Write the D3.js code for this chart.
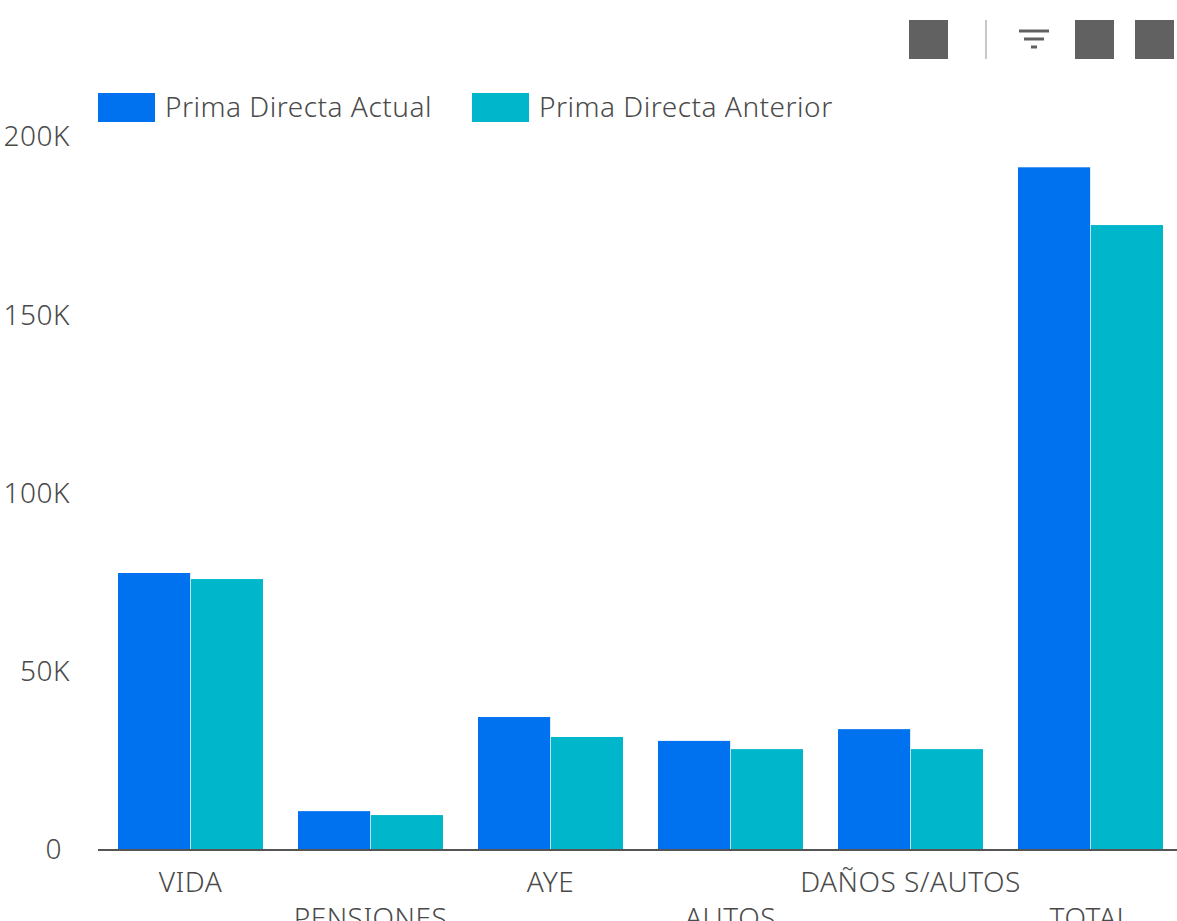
<!DOCTYPE html>
<html>
<head>
<meta charset="utf-8">
<script src="https://cdn.jsdelivr.net/npm/d3@7"></script>
<style>
  body { margin: 0; background: #fff; overflow: hidden; }
  svg { display: block; font-family: "Noto Sans", sans-serif; }
</style>
</head>
<body>
<svg width="1177" height="921"></svg>
<script>
// donnees
var ramos = ["VIDA", "PENSIONES", "AYE", "AUTOS", "DAÑOS S/AUTOS", "TOTAL"];
var series = ["Prima Directa Actual", "Prima Directa Anterior"];
var primaActual = [77700, 10900, 37300, 30600, 33900, 191500];
var primaAnterior = [76000, 9800, 31700, 28300, 28300, 175300];
var yTicks = [0, 50000, 100000, 150000, 200000];

var colores = ["#0072f0", "#00b6cb"];

var svg = d3.select("svg"),
    width = +svg.attr("width"),
    height = +svg.attr("height");

var data = ramos.map(function(r, i) {
    return {ramo: r, values: [primaActual[i], primaAnterior[i]]};
});

// echelles
var x0 = d3.scaleBand()
    .domain(ramos)
    .range([100.5, 1180.5])
    .paddingInner(35 / 180)
    .paddingOuter(35 / 360);

var x1 = d3.scaleBand()
    .domain([0, 1])
    .range([0, x0.bandwidth()])
    .paddingInner(0.01);

var y = d3.scaleLinear()
    .domain([0, 200000])
    .range([850, 137]);

var z = d3.scaleOrdinal().domain([0, 1]).range(colores);

// barres
svg.append("g")
    .selectAll("g")
    .data(data)
    .enter().append("g")
    .attr("transform", function(d) { return "translate(" + x0(d.ramo) + ",0)"; })
    .selectAll("rect")
    .data(function(d) { return d.values.map(function(v, k) { return {k: k, v: v}; }); })
    .enter().append("rect")
    .attr("x", function(d) { return x1(d.k); })
    .attr("y", function(d) { return y(d.v); })
    .attr("width", x1.bandwidth())
    .attr("height", function(d) { return y(0) - y(d.v); })
    .attr("fill", function(d) { return z(d.k); });

// style texte commun
function styleTexte(sel) {
    sel.attr("font-size", 28)
        .attr("font-family", "Noto Sans")
        .attr("font-weight", 300)
        .attr("letter-spacing", 0.5)
        .attr("fill", "#4a4a4a");
}

// axe X
var axeX = svg.append("g")
    .attr("transform", "translate(0," + y(0) + ")")
    .call(d3.axisBottom(x0).tickSize(0).tickPadding(0));
axeX.select(".domain").remove();
axeX.append("line")
    .attr("x1", 98).attr("x2", width)
    .attr("y1", 0).attr("y2", 0)
    .attr("stroke", "#555").attr("stroke-width", 2);
axeX.selectAll(".tick text")
    .call(styleTexte)
    .attr("dy", null)
    .attr("y", function(d, i) { return i % 2 ? 78 : 42; });

// axe Y
var axeY = svg.append("g")
    .attr("transform", "translate(70,0)")
    .call(d3.axisLeft(y).tickValues(yTicks).tickSize(0).tickPadding(0)
        .tickFormat(function(d) { return d === 0 ? "0" : d / 1000 + "K"; }));
axeY.select(".domain").remove();
axeY.selectAll(".tick text")
    .call(styleTexte)
    .attr("x", function(d) { return d === 0 ? -8 : 0; });

// legende
var legend = svg.append("g")
    .selectAll("g")
    .data(series)
    .enter().append("g")
    .attr("transform", function(d, i) { return "translate(" + (98 + i * 374) + ",93)"; });

legend.append("rect")
    .attr("width", 57)
    .attr("height", 29)
    .attr("fill", function(d, i) { return colores[i]; });

legend.append("text")
    .attr("x", 67)
    .attr("y", 14.5)
    .attr("dy", "0.35em")
    .call(styleTexte)
    .text(function(d) { return d; });

// barre d'outils
var outils = svg.append("g");
[909, 1075, 1135].forEach(function(px) {
    outils.append("rect").attr("x", px).attr("y", 20).attr("width", 39).attr("height", 39).attr("fill", "#616161");
});
outils.append("line").attr("x1", 986).attr("x2", 986).attr("y1", 20).attr("y2", 59)
    .attr("stroke", "#c8c8c8").attr("stroke-width", 2);
[[1019, 1049, 31], [1024, 1044, 39], [1031, 1037, 47]].forEach(function(l) {
    outils.append("line").attr("x1", l[0]).attr("x2", l[1]).attr("y1", l[2]).attr("y2", l[2])
        .attr("stroke", "#616161").attr("stroke-width", 3);
});
</script>
</body>
</html>
